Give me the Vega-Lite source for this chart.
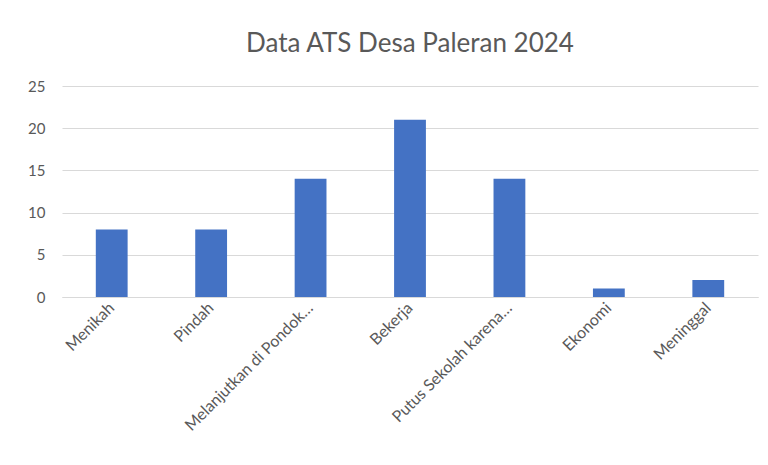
{
  "$schema": "https://vega.github.io/schema/vega-lite/v6.json",
  "autosize": "none",
  "width": 696,
  "height": 211,
  "padding": {"left": 62, "top": 86, "right": 10, "bottom": 168},
  "background": "white",
  "title": {
    "text": "Data ATS Desa Paleran 2024",
    "font": "Lato",
    "fontSize": 26,
    "fontWeight": "normal",
    "color": "#595959",
    "anchor": "middle",
    "offset": 22
  },
  "data": {
    "values": [
      {"kategori": "Menikah", "jumlah": 8},
      {"kategori": "Pindah", "jumlah": 8},
      {"kategori": "Melanjutkan di Pondok…", "jumlah": 14},
      {"kategori": "Bekerja", "jumlah": 21},
      {"kategori": "Putus Sekolah karena…", "jumlah": 14},
      {"kategori": "Ekonomi", "jumlah": 1},
      {"kategori": "Meninggal", "jumlah": 2}
    ]
  },
  "mark": {"type": "bar", "color": "#4472C4"},
  "encoding": {
    "x": {
      "field": "kategori",
      "type": "nominal",
      "sort": null,
      "scale": {"paddingInner": 0.68, "paddingOuter": 0.34},
      "axis": {
        "title": null,
        "labelAngle": -45,
        "labelAlign": "right",
        "labelBaseline": "middle",
        "labelFont": "Lato",
        "labelFontSize": 16,
        "labelColor": "#595959",
        "labelPadding": 8,
        "ticks": false,
        "domainColor": "#d9d9d9",
        "domainWidth": 1,
        "labelLimit": 300
      }
    },
    "y": {
      "field": "jumlah",
      "type": "quantitative",
      "scale": {"domain": [0, 25]},
      "axis": {
        "title": null,
        "values": [0, 5, 10, 15, 20, 25],
        "labelFont": "Lato",
        "labelFontSize": 15,
        "labelColor": "#595959",
        "labelPadding": 17,
        "ticks": false,
        "domain": false,
        "gridColor": "#d9d9d9",
        "gridWidth": 1
      }
    }
  },
  "config": {"view": {"stroke": null}}
}
